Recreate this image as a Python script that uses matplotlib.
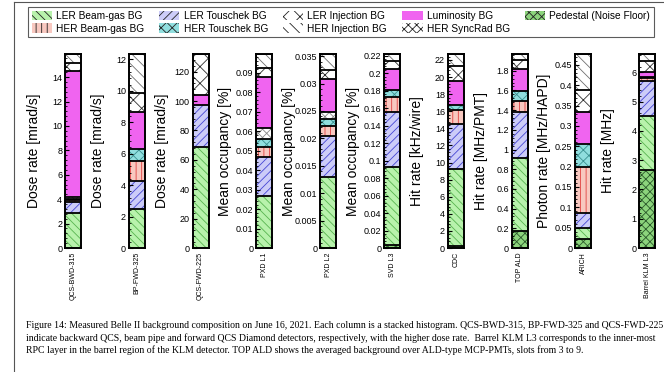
import numpy as np
import matplotlib.pyplot as plt
from matplotlib.patches import Patch

plt.rcParams['font.family'] = ['Liberation Sans', 'DejaVu Sans']
plt.rcParams['hatch.linewidth'] = 0.6

# stacking order, bottom to top
categories = ["Pedestal (Noise Floor)", "LER Beam-gas BG", "LER Touschek BG", "HER Beam-gas BG",
              "HER Touschek BG", "HER SyncRad BG", "Luminosity BG", "LER Injection BG", "HER Injection BG"]

detectors = ["QCS-BWD-315", "BP-FWD-325", "QCS-FWD-225", "PXD L1", "PXD L2",
             "SVD L3", "CDC", "TOP ALD", "ARICH", "Barrel KLM L3"]
ylabels = ["Dose rate [mrad/s]", "Dose rate [mrad/s]", "Dose rate [mrad/s]", "Mean occupancy [%]",
           "Mean occupancy [%]", "Mean occupancy [%]", "Hit rate [kHz/wire]", "Hit rate [MHz/PMT]",
           "Photon rate [MHz/HAPD]", "Hit rate [MHz]"]

# per-detector contributions (same order as categories)
qcs_bwd = [0, 2.9, 0.9, 0.15, 0.1, 0.15, 10.3, 0.7, 0.7]
bp_fwd = [0, 2.5, 1.75, 1.3, 0.75, 0, 2.35, 1.2, 2.5]
qcs_fwd = [0, 69, 28.5, 0, 0, 0, 6.5, 28, 0]
pxd_l1 = [0, 0.0265, 0.020, 0.0055, 0.004, 0.0055, 0.026, 0.005, 0.007]
pxd_l2 = [0, 0.013, 0.0075, 0.0017, 0.0013, 0.0013, 0.006, 0.0017, 0.0029]
svd_l3 = [0.004, 0.089, 0.063, 0.017, 0.008, 0, 0.024, 0.009, 0.008]
cdc = [0.2, 9.1, 5.2, 1.6, 0.6, 0, 2.8, 1.8, 1.4]
top_ald = [0.17, 0.74, 0.47, 0.115, 0.1, 0, 0.225, 0.09, 0.06]
arich = [0.022, 0.027, 0.038, 0.113, 0.055, 0, 0.08, 0.054, 0.088]
klm_l3 = [2.67, 1.83, 1.2, 0.1, 0.03, 0, 0.2, 0.35, 0.25]
values = [qcs_bwd, bp_fwd, qcs_fwd, pxd_l1, pxd_l2, svd_l3, cdc, top_ald, arich, klm_l3]

tick_steps = [2, 2, 20, 0.01, 0.005, 0.02, 2, 0.2, 0.05, 1]

styles = {
    "Pedestal (Noise Floor)": ('#8cd47c', '#2a5a2a', 'xxxx'),
    "LER Beam-gas BG": ('#b8f2ac', '#58b450', '\\\\\\\\'),
    "LER Touschek BG": ('#ccccf8', '#4646d4', '////'),
    "HER Beam-gas BG": ('#f8c8c0', '#e04040', '|||'),
    "HER Touschek BG": ('#90dede', '#3a9090', 'xxx'),
    "HER SyncRad BG": ('white', '#8a8a8a', 'xxxx'),
    "Luminosity BG": ('#f064f0', '#f064f0', None),
    "LER Injection BG": ('white', '#303030', 'xx'),
    "HER Injection BG": ('white', '#707070', '\\\\\\'),
}

fig = plt.figure(figsize=(6.64, 3.72), dpi=100)
W, H = 664, 372

for i, det in enumerate(detectors):
    left = 65 + i * 63.8
    ax = fig.add_axes([left / W, 1 - 248 / H, 16 / W, (248 - 54) / H])
    vals = values[i]
    bottom = 0
    for cat, v in zip(categories, vals):
        if v <= 0:
            continue
        fc, hc, hatch = styles[cat]
        ax.bar(0, v, width=1, bottom=bottom, color=fc, edgecolor=hc, hatch=hatch, linewidth=0)
        bottom += v
        ax.hlines(bottom, -0.5, 0.5, color='black', linewidth=1.3, zorder=3)
    ax.set_xlim(-0.5, 0.5)
    ax.set_ylim(0, bottom)
    step = tick_steps[i]
    ax.set_yticks(np.arange(0, bottom + 1e-9, step))
    ax.set_yticks(np.arange(0, bottom, step / 5), minor=True)
    ax.yaxis.set_major_formatter(plt.FormatStrFormatter('%g'))
    ax.tick_params(axis='y', which='major', direction='in', length=3, width=0.8, labelsize=6.5, pad=2)
    ax.tick_params(axis='y', which='minor', direction='in', length=1.5, width=0.6)
    ax.set_xticks([0])
    ax.set_xticklabels([det], rotation=90, fontsize=5)
    ax.tick_params(axis='x', length=0, pad=3)
    for s in ax.spines.values():
        s.set_linewidth(1.4)
    ax.set_ylabel(ylabels[i], fontsize=10)
    ax.yaxis.set_label_coords(-31 / 16, 0.5)
    ax.yaxis.label.set_va('center')

labels = ["LER Beam-gas BG", "HER Beam-gas BG", "LER Touschek BG", "HER Touschek BG",
          "LER Injection BG", "HER Injection BG", "Luminosity BG", "HER SyncRad BG",
          "Pedestal (Noise Floor)"]
handles = [Patch(facecolor=styles[c][0], edgecolor=styles[c][1], hatch=styles[c][2], linewidth=0)
           for c in labels]
leg = fig.legend(handles, labels, ncol=5, loc='upper left', bbox_to_anchor=(28 / W, 1 - 7 / H),
                 fontsize=7.3, frameon=True, fancybox=False, edgecolor='#333333',
                 handlelength=2.0, handleheight=1.1, handletextpad=0.4, columnspacing=1.5,
                 labelspacing=0.25, borderpad=0.35, borderaxespad=0)
leg.get_frame().set_linewidth(0.8)
for p in leg.get_patches():
    p.set_edgecolor('#222222')

# page border lines of the screenshot
fig.add_artist(plt.Line2D([14 / W, 14 / W], [0, 1 - 2 / H], color='#555555', linewidth=0.8))
fig.add_artist(plt.Line2D([14 / W, 1], [1 - 2 / H, 1 - 2 / H], color='#555555', linewidth=0.8))

caption = [
    "Figure 14: Measured Belle II background composition on June 16, 2021. Each column is a stacked histogram. QCS-BWD-315, BP-FWD-325 and QCS-FWD-225",
    "indicate backward QCS, beam pipe and forward QCS Diamond detectors, respectively, with the higher dose rate.  Barrel KLM L3 corresponds to the inner-most",
    "RPC layer in the barrel region of the KLM detector. TOP ALD shows the averaged background over ALD-type MCP-PMTs, slots from 3 to 9.",
]
for j, line in enumerate(caption):
    fig.text(26 / W, 1 - (326 + 12 * j) / H, line, fontsize=7.0, family='Liberation Serif',
             va='center', ha='left')

fig.savefig("out.png", dpi=100)
